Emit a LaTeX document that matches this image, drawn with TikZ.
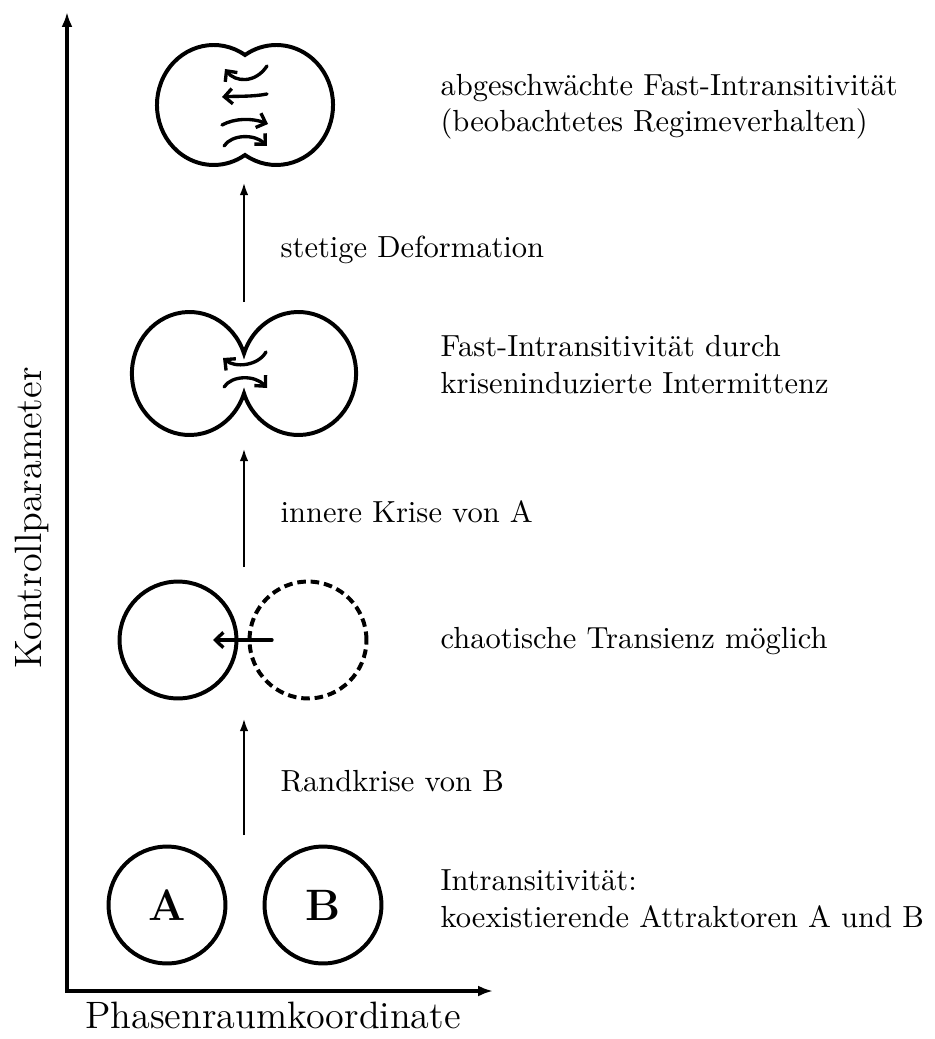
\documentclass[tikz,border=0pt]{standalone}
\usetikzlibrary{arrows.meta, calc, positioning}
\definecolor{Ink}{HTML}{000000}
\tikzset{
  axis/.style={
    {Latex[length=4.9pt,width=3.6pt]}-{Latex[length=4.9pt,width=3.6pt]},
    line width=1.1pt, color=Ink,
  },
  stp/.style={
    -{Latex[length=4.3pt,width=2.8pt]},
    line width=0.9pt, color=Ink,
  },
  flw/.style={
    -{Straight Barb[length=2.6pt,width=5pt]},
    line width=1.1pt, color=Ink, line cap=round,
  },
  attr/.style={
    circle, draw=Ink, line width=1.3pt,
    minimum size=38.3pt, inner sep=0pt,
    font=\Large\bfseries,
  },
  ghost/.style={
    attr, dash pattern=on 2.8pt off 1.6pt,
  },
  blob/.style={
    draw=Ink, line width=1.3pt,
  },
  txt/.style={
    anchor=base west, inner sep=0pt,
    font=\normalsize, align=left,
  },
  axlbl/.style={
    anchor=base, inner sep=0pt,
    font=\fontsize{12.5}{15}\selectfont,
  },
}
\begin{document}
\begin{tikzpicture}[x=0.3276pt,y=-0.3276pt]
  \useasboundingbox (0,0) rectangle (934,1039);
  % axes
  \coordinate (O) at (67,991);
  \coordinate (yend) at (67,12);
  \coordinate (xend) at (493,991);
  \draw[axis] (yend) -- (O) -- (xend);
  \node[axlbl] (xl) at (273,1028) {Phasenraumkoordinate};
  \node[axlbl, rotate=90] (yl) at (42,518) {Kontrollparameter};
  % stage 1: coexisting attractors
  \node[attr] (A) at (167,905) {A};
  \node[attr] (B) at (323,905) {B};
  % stage 2: boundary crisis of B
  \node[attr] (a2) at (178,640) {};
  \node[ghost] (b2) at (308,640) {};
  \draw[flw] ($(b2.center)+(-36,0)$) -- ($(a2.center)+(35,0)$);
  % stage 3: merged by interior crisis
  \coordinate (p3) at (244,373.5);
  \draw[blob] ($(p3)+(0,-20)$)
    arc[start angle=-18.97, end angle=-341.03, x radius=57.6, y radius=61.5]
    arc[start angle=161.03, end angle=-161.03, x radius=57.6, y radius=61.5]
    -- cycle;
  \draw[flw] (266,352) .. controls (258,366) and (235,368) .. (223,358);
  \draw[flw] (224,387) .. controls (232,375) and (255,375) .. (267,388);
  % stage 4: smooth deformation
  \coordinate (p4) at (245,105);
  \draw[blob] ($(p4)+(0,-50)$)
    arc[start angle=-56.44, end angle=-303.56, x radius=56.7, y radius=60]
    arc[start angle=123.56, end angle=-123.56, x radius=56.7, y radius=60]
    -- cycle;
  \draw[flw] (267,66) .. controls (255,84) and (235,82) .. (225,69);
  \draw[flw] (267,94) .. controls (252,97) and (235,96) .. (222,97);
  \draw[flw] (222,125) .. controls (235,118) and (252,118) .. (268,124);
  \draw[flw] (224,146) .. controls (232,134) and (255,134) .. (267,146);
  % transitions
  \foreach \i/\yb/\yt/\txt in {
      1/835/718/Randkrise von B,
      2/567/448/innere Krise von A,
      3/302/182/stetige Deformation}{
    \coordinate (lo\i) at (244,\yb);
    \coordinate (hi\i) at (244,\yt);
    \draw[stp] (lo\i) -- (hi\i);
    \node[txt] (m\i) at ($(lo\i)!0.5!(hi\i)+(36,15)$) {\txt};
  }
  % regime descriptions (base = last line)
  \foreach \i/\yb/\txt in {
      1/927/{Intransitivität:\\koexistierende Attraktoren A und B},
      2/648/{chaotische Transienz möglich},
      3/393/{Fast-Intransitivität durch\\kriseninduzierte Intermittenz},
      4/132/{abgeschwächte Fast-Intransitivität\\(beobachtetes Regimeverhalten)}}{
    \node[txt] (r\i) at (440,\yb) {\txt};
  }
\end{tikzpicture}
\end{document}
